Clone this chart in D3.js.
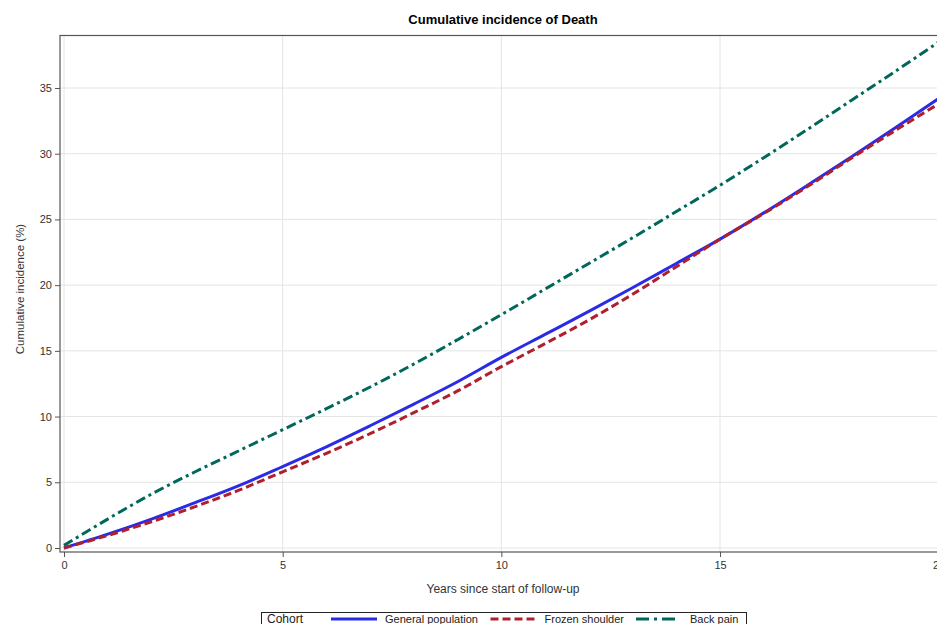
<!DOCTYPE html>
<html>
<head>
<meta charset="utf-8">
<script src="https://cdn.jsdelivr.net/npm/d3@7"></script>
<style>
  body { margin: 0; background: #fff; }
  svg { display: block; font-family: 'Liberation Sans', Arial, sans-serif; }
</style>
</head>
<body>
<div id="chart"></div>
<script>
const years = [0, 1, 2, 3, 4, 5, 6, 7, 8, 9, 10, 11, 12, 13, 14, 15, 16, 17, 18, 19, 20];
const generalPopulation = [0, 1.05, 2.2, 3.45, 4.75, 6.2, 7.7, 9.3, 10.95, 12.65, 14.5, 16.25, 18.0, 19.8, 21.65, 23.5, 25.5, 27.6, 29.75, 31.95, 34.2];
const frozenShoulder = [0, 0.95, 2.0, 3.15, 4.4, 5.8, 7.2, 8.7, 10.3, 11.95, 13.8, 15.55, 17.35, 19.3, 21.4, 23.5, 25.45, 27.5, 29.65, 31.75, 33.8];
const backPain = [0.2, 2.2, 4.1, 5.8, 7.4, 9.0, 10.6, 12.25, 14.0, 15.85, 17.75, 19.7, 21.65, 23.6, 25.6, 27.6, 29.7, 31.85, 34.05, 36.25, 38.5];
const cohortNames = ['General population', 'Frozen shoulder', 'Back pain'];
const xTicks = [0, 5, 10, 15, 20];
const yTicks = [0, 5, 10, 15, 20, 25, 30, 35];

const width = 937;
const height = 624;
const plot = {left: 60, right: 943, top: 35.5, bottom: 552};

const series = [
  {name: cohortNames[0], values: generalPopulation, color: '#2b2be6', dash: null},
  {name: cohortNames[1], values: frozenShoulder, color: '#b01f2c', dash: '8,4'},
  {name: cohortNames[2], values: backPain, color: '#00685a', dash: '10,4,3,4'},
];

const svg = d3.select('#chart').append('svg')
  .attr('width', width)
  .attr('height', height);

const x = d3.scaleLinear().domain([0, 20]).range([64, 938.7]);
const y = d3.scaleLinear().domain([0, 35]).range([548, 88]);

// grid
svg.append('g')
  .selectAll('line')
  .data(xTicks)
  .enter().append('line')
  .attr('x1', (d) => x(d)).attr('x2', (d) => x(d))
  .attr('y1', plot.top).attr('y2', plot.bottom)
  .style('stroke', '#e4e4e4');

svg.append('g')
  .selectAll('line')
  .data(yTicks)
  .enter().append('line')
  .attr('x1', plot.left).attr('x2', plot.right)
  .attr('y1', (d) => y(d)).attr('y2', (d) => y(d))
  .style('stroke', '#e4e4e4');

// frame
svg.append('rect')
  .attr('x', plot.left)
  .attr('y', plot.top)
  .attr('width', plot.right - plot.left)
  .attr('height', plot.bottom - plot.top)
  .style('fill', 'none')
  .style('stroke', '#555')
  .style('stroke-width', 1.2);

// axes
const xAxis = d3.axisBottom(x).tickValues(xTicks).tickSize(5).tickPadding(4);
const yAxis = d3.axisLeft(y).tickValues(yTicks).tickSize(5).tickPadding(3);

svg.append('g')
  .attr('transform', `translate(0,${plot.bottom})`)
  .call(xAxis)
  .call((g) => g.select('.domain').remove())
  .call((g) => g.selectAll('line').style('stroke', '#555'))
  .call((g) => g.selectAll('text').style('font-size', '11px').style('fill', '#333'));

svg.append('g')
  .attr('transform', `translate(${plot.left},0)`)
  .call(yAxis)
  .call((g) => g.select('.domain').remove())
  .call((g) => g.selectAll('line').style('stroke', '#555'))
  .call((g) => g.selectAll('text').style('font-size', '11px').style('fill', '#333'));

// curves
const line = d3.line()
  .x((d, i) => x(years[i]))
  .y((d) => y(d))
  .curve(d3.curveCatmullRom);

svg.append('g')
  .selectAll('path')
  .data(series)
  .enter().append('path')
  .attr('d', (d) => line(d.values))
  .style('fill', 'none')
  .style('stroke', (d) => d.color)
  .style('stroke-width', 3)
  .style('stroke-dasharray', (d) => d.dash);

// titles
svg.append('text')
  .attr('x', 503)
  .attr('y', 24)
  .attr('text-anchor', 'middle')
  .style('font-size', '13px')
  .style('font-weight', 'bold')
  .style('fill', '#000')
  .text('Cumulative incidence of Death');

svg.append('text')
  .attr('x', 503)
  .attr('y', 593)
  .attr('text-anchor', 'middle')
  .style('font-size', '12px')
  .style('fill', '#333')
  .text('Years since start of follow-up');

svg.append('text')
  .attr('transform', 'translate(24,289) rotate(-90)')
  .attr('text-anchor', 'middle')
  .style('font-size', '11.5px')
  .style('fill', '#333')
  .text('Cumulative incidence (%)');

// legend
const legend = svg.append('g');
legend.append('rect')
  .attr('x', 261.5)
  .attr('y', 612.5)
  .attr('width', 485)
  .attr('height', 20)
  .style('fill', 'none')
  .style('stroke', '#222');

legend.append('text')
  .attr('x', 267)
  .attr('y', 623)
  .style('font-size', '12px')
  .style('fill', '#222')
  .text('Cohort');

const legendX = [331, 490.5, 636];
const items = legend.selectAll('.item')
  .data(series)
  .enter().append('g')
  .attr('class', 'item')
  .attr('transform', (d, i) => `translate(${legendX[i]},0)`);

items.append('line')
  .attr('x1', 0).attr('x2', (d, i) => (i === 2 ? 42 : 46))
  .attr('y1', 619).attr('y2', 619)
  .style('stroke', (d) => d.color)
  .style('stroke-width', 3)
  .style('stroke-dasharray', (d, i) => (i === 2 ? '13,5,3,5' : d.dash));

items.append('text')
  .attr('x', 54)
  .attr('y', 623)
  .style('font-size', '11px')
  .style('fill', '#222')
  .text((d) => d.name);
</script>
</body>
</html>
